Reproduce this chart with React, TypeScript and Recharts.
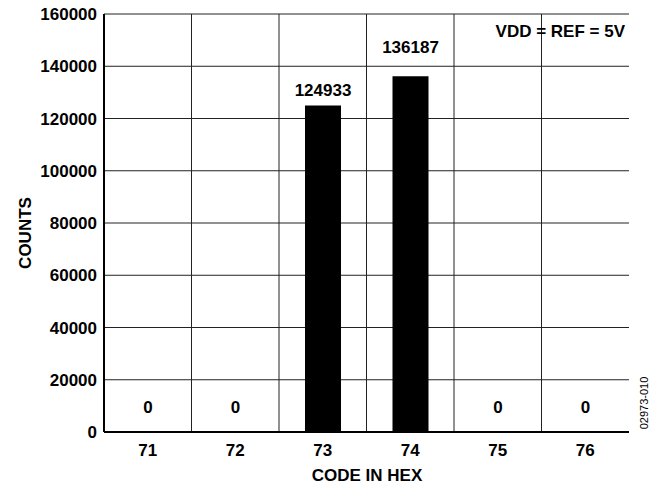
import { BarChart, Bar, XAxis, YAxis, CartesianGrid, LabelList } from 'recharts';

const codes = ['71', '72', '73', '74', '75', '76'];
const counts = [0, 0, 124933, 136187, 0, 0];
const yTicks = [0, 20000, 40000, 60000, 80000, 100000, 120000, 140000, 160000];

const data = codes.map((code, i) => ({ code, count: counts[i] }));

const FONT = '"Liberation Sans", Arial, sans-serif';
// how far above the bar top each value label sits
const labelLift = [24, 24, 15, 29, 24, 24];

const tickStyle = { fill: '#000', fontSize: 17, fontWeight: 700, fontFamily: FONT };

function ValueLabel(props: any) {
  const { x, y, width, height, index, value } = props;
  const top = Math.min(y, y + (height || 0));
  return (
    <text
      x={x + width / 2}
      y={top - labelLift[index]}
      textAnchor="middle"
      dominantBaseline="central"
      fill="#000"
      fontSize={17}
      fontWeight={700}
      fontFamily={FONT}
    >
      {value}
    </text>
  );
}

export default function App() {
  return (
    <div style={{ position: 'absolute', left: 0, top: 0, background: '#fff' }}>
      <BarChart width={662} height={487} data={data} margin={{ top: 14, right: 33, left: 0, bottom: 0 }}>
        <CartesianGrid
          stroke="#222"
          strokeWidth={1}
          verticalCoordinatesGenerator={({ offset }: any) =>
            [1, 2, 3, 4, 5].map(i => offset.left + (offset.width * i) / codes.length)
          }
        />
        <Bar dataKey="count" fill="#000" barSize={36} minPointSize={1} isAnimationActive={false}>
          <LabelList dataKey="count" content={<ValueLabel />} />
        </Bar>
        <XAxis
          dataKey="code"
          height={55}
          tick={tickStyle}
          tickLine={false}
          tickSize={0}
          tickMargin={12}
          axisLine={{ stroke: '#000', strokeWidth: 2 }}
        />
        <XAxis xAxisId="top" dataKey="code" orientation="top" height={0} tick={false} tickLine={false} axisLine={{ stroke: '#000', strokeWidth: 2 }} />
        <YAxis
          domain={[0, 160000]}
          ticks={yTicks}
          width={104}
          tick={tickStyle}
          tickLine={false}
          tickSize={0}
          tickMargin={7}
          axisLine={{ stroke: '#000', strokeWidth: 2 }}
          interval={0}
        />
        <YAxis yAxisId="right" orientation="right" width={0} domain={[0, 160000]} tick={false} tickLine={false} axisLine={{ stroke: '#000', strokeWidth: 2 }} />
        <text x={25} y={233} transform="rotate(-90 25 233)" textAnchor="middle" dominantBaseline="central" fill="#000" fontSize={17} fontWeight={700} fontFamily={FONT}>
          COUNTS
        </text>
        <text x={367} y={475} textAnchor="middle" dominantBaseline="central" fill="#000" fontSize={17} fontWeight={700} fontFamily={FONT}>
          CODE IN HEX
        </text>
        <text x={625} y={31} textAnchor="end" dominantBaseline="central" fill="#000" fontSize={17} fontWeight={700} fontFamily={FONT}>
          VDD = REF = 5V
        </text>
        <text x={644} y={403} transform="rotate(-90 644 403)" textAnchor="middle" dominantBaseline="central" fill="#000" fontSize={11} fontFamily={FONT}>
          02973-010
        </text>
      </BarChart>
    </div>
  );
}
